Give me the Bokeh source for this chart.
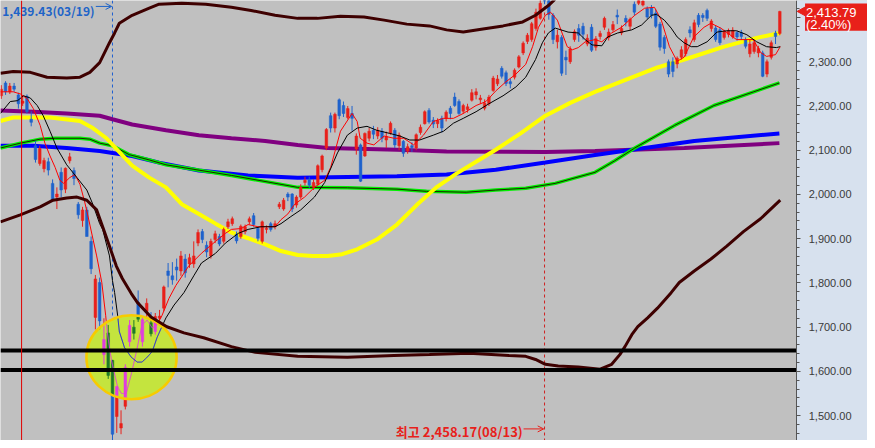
import numpy as np
from bokeh.plotting import figure
from bokeh.models import (Range1d, Span, Arrow, OpenHead, LinearAxis,
                          SingleIntervalTicker, NumeralTickFormatter)
from bokeh.core.properties import value
from bokeh.embed import file_html
from bokeh.resources import INLINE

# ---------------- data: KOSPI daily candles (index 0 = 2020-02-12) ----------------
opens = [2223, 2252, 2232, 2245, 2225, 2206, 2222, 2170, 2110, 2070,
         2058, 2074, 2025, 1994, 2050, 2012, 2076, 2054, 1978, 1941,
         1965, 1894, 1722, 1801, 1638, 1687, 1625, 1498, 1472, 1521,
         1667, 1700, 1756, 1667, 1736, 1710, 1690, 1720, 1743, 1827,
         1816, 1836, 1827, 1854, 1843, 1843, 1890, 1916, 1885, 1861,
         1898, 1905, 1894, 1927, 1934, 1910, 1905, 1916, 1938, 1952,
         1923, 1894, 1921, 1934, 1927, 1972, 1967, 2001, 2001, 1976,
         1994, 2027, 2034, 2016, 2023, 2056, 2105, 2178, 2150, 2214,
         2201, 2174, 2183, 2103, 2112, 2087, 2127, 2145, 2132, 2143,
         2123, 2138, 2145, 2110, 2120, 2098, 2110, 2105, 2140, 2160,
         2190, 2168, 2160, 2172, 2172, 2195, 2220, 2210, 2188, 2192,
         2213, 2225, 2214, 2195, 2205, 2235, 2250, 2285, 2275, 2255,
         2265, 2288, 2320, 2346, 2350, 2375, 2398, 2450, 2440, 2405,
         2345, 2355, 2310, 2300, 2350, 2375, 2380, 2340, 2378, 2333,
         2357, 2378, 2355, 2372, 2405, 2365, 2398, 2380, 2430, 2432,
         2428, 2420, 2422, 2410, 2385, 2355, 2300, 2300, 2295, 2310,
         2318, 2372, 2350, 2405, 2405, 2416, 2375, 2376, 2372, 2355,
         2362, 2356, 2366, 2366, 2350, 2318, 2323, 2320, 2320, 2272,
         2310, 2365, 2364]
highs = [2247, 2256, 2252, 2252, 2230, 2222, 2226, 2188, 2121, 2110,
         2083, 2083, 2034, 2016, 2061, 2061, 2094, 2061, 1983, 1972,
         1972, 1905, 1818, 1812, 1720, 1705, 1626, 1566, 1512, 1616,
         1716, 1716, 1783, 1723, 1765, 1734, 1732, 1739, 1794, 1845,
         1847, 1855, 1872, 1865, 1866, 1894, 1921, 1922, 1894, 1900,
         1918, 1911, 1925, 1945, 1950, 1916, 1932, 1932, 1950, 1958,
         1927, 1941, 1930, 1938, 1941, 1983, 1992, 2005, 2003, 1998,
         2023, 2040, 2040, 2034, 2068, 2090, 2150, 2185, 2185, 2217,
         2210, 2200, 2200, 2138, 2115, 2140, 2150, 2155, 2152, 2150,
         2142, 2165, 2150, 2140, 2123, 2115, 2118, 2138, 2158, 2190,
         2195, 2175, 2172, 2178, 2190, 2200, 2230, 2215, 2205, 2205,
         2238, 2240, 2225, 2215, 2225, 2268, 2270, 2290, 2280, 2262,
         2285, 2315, 2346, 2365, 2390, 2420, 2440, 2458.17, 2445, 2410,
         2372, 2360, 2325, 2335, 2373, 2385, 2388, 2362, 2385, 2358,
         2370, 2402, 2375, 2392, 2418, 2382, 2405, 2400, 2436, 2448,
         2445, 2425, 2428, 2418, 2390, 2360, 2305, 2310, 2312, 2335,
         2355, 2380, 2395, 2410, 2410, 2420, 2396, 2382, 2378, 2372,
         2375, 2378, 2370, 2372, 2355, 2350, 2350, 2336, 2325, 2305,
         2348, 2370, 2415]
lows = [2216, 2225, 2227, 2232, 2194, 2200, 2183, 2154, 2072, 2065,
        2050, 2043, 1983, 1967, 1994, 2003, 2070, 2021, 1945, 1927,
        1905, 1820, 1695, 1695, 1616, 1583, 1439.43, 1461, 1458, 1514,
        1656, 1672, 1712, 1656, 1723, 1679, 1683, 1712, 1736, 1790,
        1796, 1805, 1816, 1812, 1834, 1834, 1883, 1890, 1858, 1855,
        1890, 1883, 1889, 1922, 1929, 1889, 1900, 1910, 1932, 1927,
        1894, 1889, 1912, 1916, 1921, 1967, 1963, 1985, 1960, 1970,
        1990, 2020, 2014, 2010, 2020, 2050, 2100, 2140, 2140, 2170,
        2175, 2170, 2144, 2090, 2028, 2085, 2120, 2125, 2125, 2118,
        2105, 2135, 2105, 2100, 2085, 2092, 2096, 2100, 2135, 2158,
        2160, 2150, 2150, 2140, 2165, 2170, 2198, 2180, 2182, 2185,
        2210, 2215, 2205, 2190, 2200, 2232, 2245, 2262, 2245, 2240,
        2260, 2285, 2315, 2340, 2345, 2370, 2395, 2430, 2395, 2340,
        2330, 2268, 2270, 2295, 2345, 2345, 2350, 2335, 2322, 2325,
        2350, 2372, 2348, 2368, 2385, 2360, 2380, 2372, 2405, 2428,
        2425, 2397, 2398, 2376, 2325, 2318, 2265, 2265, 2285, 2305,
        2312, 2355, 2345, 2378, 2390, 2392, 2368, 2345, 2338, 2350,
        2355, 2352, 2348, 2350, 2330, 2310, 2318, 2310, 2265, 2265,
        2305, 2340, 2360]
closes = [2238, 2232, 2245, 2238, 2205, 2211, 2187, 2163, 2079, 2104,
          2077, 2055, 1987, 2001, 2010, 2059, 2085, 2036, 1954, 1965,
          1905, 1832, 1809, 1714, 1672, 1591, 1458, 1566, 1482, 1609,
          1704, 1686, 1718, 1717, 1754, 1685, 1724, 1725, 1791, 1817,
          1807, 1829, 1861, 1823, 1857, 1861, 1914, 1898, 1870, 1894,
          1911, 1888, 1921, 1938, 1945, 1895, 1928, 1927, 1945, 1932,
          1901, 1938, 1923, 1921, 1934, 1978, 1987, 1994, 1967, 1994,
          2016, 2032, 2021, 2027, 2065, 2087, 2147, 2150, 2181, 2178,
          2183, 2194, 2172, 2132, 2030, 2138, 2143, 2136, 2145, 2127,
          2131, 2161, 2112, 2134, 2093, 2108, 2106, 2135, 2152, 2187,
          2164, 2159, 2167, 2150, 2186, 2183, 2201, 2183, 2201, 2198,
          2230, 2232, 2218, 2206, 2220, 2263, 2261, 2267, 2251, 2250,
          2281, 2311, 2342, 2360, 2386, 2412, 2432, 2437, 2407, 2350,
          2360, 2274, 2304, 2329, 2368, 2360, 2362, 2353, 2326, 2352,
          2364, 2398, 2367, 2384, 2401, 2375, 2390, 2396, 2412, 2443,
          2437, 2401, 2405, 2380, 2333, 2330, 2272, 2278, 2308, 2327,
          2350, 2365, 2388, 2384, 2400, 2398, 2392, 2350, 2343, 2368,
          2370, 2371, 2356, 2357, 2335, 2340, 2343, 2330, 2267, 2300,
          2343, 2357, 2413.79]

low_day, low_date = 26, "03/19"
high_day, high_date = 127, "08/13"
cursor_day = 4.75
last_change_pct = 2.40
support_levels = [1647, 1603]

# moving averages (x = trading-day index)
ma5_x = [-0.2, 2.8, 4.5, 6.1, 7.5, 9.1, 10.2, 11.4, 12.6, 13.7, 14.6, 16.0, 17.2, 18.4,
         19.5, 20.2, 22.3, 23.5, 24.4, 24.8, 25.8, 27.2, 28.1, 29.2, 30.4, 31.6, 32.9,
         34.1, 35.3, 36.4, 37.6, 39.2, 40.8, 43.8, 46.8, 50.1, 52.4, 53.8, 56.1, 57.7,
         60.0, 64.0, 65.4, 67.0, 68.6, 70.9, 73.2, 75.6, 77.0, 79.3, 82.0, 83.2, 83.9,
         85.5, 87.1, 89.5, 91.8, 94.1, 96.4, 98.7, 101.0, 103.4, 105.7, 108.0, 111.0,
         113.3, 115.6, 117.9, 120.3, 122.6, 124.2, 125.6, 127.2, 128.4, 130.0, 131.1,
         132.3, 133.5, 134.9, 136.5, 138.8, 140.4, 142.7, 145.0, 148.1, 150.4, 152.7,
         154.3, 156.2, 158.0, 159.6, 161.9, 164.3, 165.9, 168.2, 171.9, 175.8, 177.5,
         178.9, 181.0, 182.1]
ma5_y = [2232, 2232, 2227, 2216, 2194, 2156, 2116, 2087, 2061, 2032, 2025, 2038, 2045, 2023,
         1983, 1954, 1861, 1801, 1727, 1687, 1623, 1565, 1550, 1550, 1594, 1645, 1705,
         1716, 1698, 1705, 1727, 1765, 1794, 1838, 1867, 1894, 1912, 1921, 1923, 1932,
         1927, 1927, 1943, 1956, 1978, 1994, 2016, 2032, 2061, 2143, 2183, 2165, 2127,
         2116, 2112, 2132, 2127, 2127, 2112, 2134, 2165, 2172, 2172, 2183, 2201,
         2210, 2234, 2254, 2272, 2294, 2334, 2378, 2405, 2412, 2394, 2365,
         2334, 2327, 2332, 2345, 2350, 2345, 2365, 2378, 2405, 2421, 2423,
         2394, 2334, 2301, 2310, 2356, 2378, 2387, 2376, 2350, 2350, 2321,
         2312, 2316, 2334]
ma20_x = [-0.2, 2.1, 3.8, 5.2, 6.8, 8.4, 9.8, 11.4, 13.0, 15.3, 17.7, 20.0, 21.4, 23.0,
          23.7, 25.3, 26.0, 26.5, 27.2, 27.6, 28.8, 30.4, 31.8, 32.9, 34.1, 35.3, 36.4,
          37.4, 38.5, 40.4, 42.7, 45.0, 46.8, 50.1, 52.4, 55.4, 57.7, 60.7, 64.0, 65.4,
          67.7, 70.0, 73.2, 75.6, 78.6, 80.9, 83.2, 85.5, 87.8, 90.8, 93.2, 95.5, 97.8,
          101.0, 103.4, 105.7, 108.0, 111.0, 114.0, 117.3, 120.3, 122.6, 124.9, 126.5,
          127.9, 129.5, 132.5, 134.9, 136.5, 138.1, 140.4, 141.8, 144.1, 147.4, 149.7,
          152.0, 153.2, 155.0, 156.6, 158.0, 159.6, 161.3, 162.7, 165.0, 167.3, 169.6,
          171.9, 174.3, 176.6, 178.9, 181.2, 182.1]
ma20_y = [2183, 2210, 2212, 2223, 2218, 2201, 2178, 2143, 2105, 2067, 2038, 2010, 1978, 1934,
          1921, 1861, 1805, 1778, 1727, 1690, 1654, 1632, 1621, 1621, 1632, 1645, 1676,
          1698, 1721, 1750, 1778, 1816, 1845, 1867, 1890, 1912, 1921, 1927, 1927, 1934,
          1950, 1965, 1994, 2027, 2094, 2134, 2150, 2154, 2145, 2138, 2132, 2123, 2123,
          2134, 2143, 2161, 2172, 2187, 2205, 2223, 2243, 2265, 2305, 2343,
          2365, 2376, 2367, 2365, 2350, 2338, 2336, 2356, 2365, 2372, 2383,
          2405, 2407, 2394, 2376, 2356, 2343, 2334, 2334, 2345, 2367, 2370,
          2370, 2361, 2345, 2334, 2332, 2334]
ma60_x = [-0.18, 2.8, 11.4, 18.4, 21.4, 24.6, 26.9, 30.6, 34.6, 38.5, 42.2, 46.2, 50.1,
          53.8, 57.7, 61.7, 65.4, 69.3, 72.8, 76.3, 79.7, 83.2, 87.8, 92.5, 97.1, 101.7,
          106.4, 111.0, 115.6, 121.4, 127.2, 133.0, 138.8, 153.4, 159.7, 169.0, 176.6, 182.1]
ma60_y = [2166, 2174, 2174, 2166, 2150, 2127, 2103, 2065, 2038, 2016, 1978, 1956, 1934,
          1914, 1901, 1887, 1872, 1863, 1861, 1861, 1865, 1876, 1898, 1932, 1976, 2016,
          2047, 2074, 2101, 2138, 2178, 2207, 2232, 2287, 2305, 2334, 2354, 2365]
ma120_x = [-0.18, 4.5, 9.1, 12.6, 18.4, 20.7, 23.0, 26.0, 29.9, 34.6, 38.5, 53.8, 69.3,
           80.9, 92.5, 99.4, 108.7, 115.6, 122.6, 129.5, 138.8, 143.4, 148.1, 157.4,
           166.6, 175.9, 181.9]
ma120_y = [2105, 2116, 2125, 2127, 2127, 2125, 2116, 2110, 2090, 2078, 2067, 2043, 2016,
           2015, 2012, 2007, 2005, 2010, 2014, 2025, 2050, 2076, 2105, 2156, 2201, 2232, 2252]
ma200_x = [-0.18, 7.5, 15.3, 23.0, 30.6, 36.9, 46.2, 57.7, 69.3, 92.5, 104.1, 115.6, 127.2,
           138.8, 150.4, 162.0, 181.9]
ma200_y = [2110, 2110, 2105, 2098, 2087, 2072, 2054, 2043, 2038, 2041, 2045, 2056, 2072,
           2089, 2105, 2121, 2138]
ma240_x = [-0.18, 7.5, 15.3, 23.0, 26.0, 30.6, 38.5, 46.2, 53.8, 61.7, 69.3, 76.3, 92.5,
           104.1, 127.2, 138.8, 159.7, 181.9]
ma240_y = [2190, 2187, 2183, 2178, 2170, 2158, 2145, 2134, 2127, 2121, 2112, 2105, 2101,
           2097, 2096, 2098, 2105, 2116]
band_up_x = [-0.18, 2.8, 6.8, 10.7, 15.3, 18.4, 20.7, 23.0, 25.3, 26.5, 27.6, 30.6, 34.6,
             36.9, 42.2, 47.8, 53.8, 58.4, 64.0, 69.3, 73.9, 79.3, 84.8, 89.5, 94.8, 100.1,
             104.1, 108.0, 112.6, 117.3, 121.9, 124.9, 127.9, 129.1, 131.0]
band_up_y = [2274, 2278, 2276, 2265, 2263, 2265, 2276, 2298, 2343, 2365, 2387, 2405, 2421,
             2430, 2432, 2430, 2423, 2416, 2405, 2398, 2398, 2403, 2401, 2394, 2385, 2381,
             2372, 2367, 2374, 2381, 2390, 2405, 2427, 2438, 2460]
band_dn_x = [-0.18, 4.46, 9.09, 12.1, 15.3, 17.7, 20.0, 22.3, 23.7, 25.3, 26.9, 28.3, 30.4,
             31.8, 35.0, 38.7, 42.7, 47.3, 53.8, 59.4, 69.3, 80.9, 91.8, 100.1, 109.4,
             118.7, 122.6, 124.9, 127.2, 130.2, 134.9, 140.0, 142.7, 144.6, 145.8, 147.4,
             148.8, 151.1, 153.4, 156.6, 158.5, 162.0, 165.9, 169.6, 173.5, 177.5, 182.1]
band_dn_y = [1938, 1954, 1972, 1987, 1992, 1994, 1987, 1965, 1927, 1883, 1838, 1810, 1776,
             1756, 1723, 1701, 1687, 1676, 1656, 1643, 1634, 1632, 1636, 1638, 1641,
             1636, 1634, 1627, 1616, 1612, 1610, 1605, 1616, 1638, 1656, 1683,
             1701, 1721, 1743, 1778, 1801, 1827, 1854, 1883, 1916, 1945, 1987]

# highlighted zone (drawn ellipse) in data units
E_X, E_Y, E_W, E_H = 30.45, 1632.0, 21.1, 190.0

# ---------------- layout constants ----------------
X0, X1 = -0.18, 202.5          # visible trading-day window incl. price panel
Y0, Y1 = 1443.8, 2438.4
AXIS_X = 185.95                # price axis position (right edge of chart area)
TAG_X = 187.9                  # left edge of the last-price tag

RED, BLUE = "#E8201A", "#1E62CC"
MAG, DGREEN = "#E03CE0", "#1E7A28"
BG, PANEL = "#C0C0C0", "#D7E1EE"

o = np.array(opens, float); h = np.array(highs, float)
l = np.array(lows, float); c = np.array(closes, float)
n = len(c)
day = np.arange(n)
up = c >= o
col = np.where(up, RED, BLUE)
alt = np.where(up, MAG, DGREEN)
bot = np.minimum(o, c)
top = np.maximum(np.maximum(o, c), bot + 2.5)

p = figure(width=867, height=440, x_range=Range1d(X0, X1),
           y_range=Range1d(Y0, Y1), output_backend="svg",
           toolbar_location=None, x_axis_location=None, y_axis_location=None,
           min_border_left=0, min_border_top=0, min_border_bottom=0,
           min_border_right=0, background_fill_color=BG,
           border_fill_color=PANEL, outline_line_color=None)
p.grid.visible = False

# price panel background
p.quad(left=[AXIS_X], right=[X1 + 1], bottom=[Y0 - 50], top=[Y1 + 50],
       fill_color=PANEL, line_color=None, level="underlay")

ax = LinearAxis(fixed_location=AXIS_X)
ax.ticker = SingleIntervalTicker(interval=100, num_minor_ticks=5)
ax.formatter = NumeralTickFormatter(format="0,0.00")
ax.axis_line_color = "#555555"
ax.major_tick_line_color = "#555555"
ax.minor_tick_line_color = "#555555"
ax.major_tick_out = 4
ax.major_tick_in = 0
ax.minor_tick_out = 3
ax.minor_tick_in = 0
ax.major_label_text_font = "Liberation Sans"
ax.major_label_text_font_size = "11px"
ax.major_label_text_color = "#3A3A3A"
ax.major_label_standoff = 8
p.add_layout(ax, "right")

# date markers
p.add_layout(Span(location=low_day, dimension="height", line_color="#1E5FD0",
                  line_width=1, line_dash="3 3", level="underlay"))
p.add_layout(Span(location=high_day, dimension="height", line_color="#D02020",
                  line_width=1, line_dash="3 3", level="underlay"))

# long moving averages
p.line(ma240_x, ma240_y, line_color="#800080", line_width=4)
p.line(ma200_x, ma200_y, line_color="#0000FF", line_width=4)
p.line(ma120_x, ma120_y, line_color="#00F000", line_width=3.5)
p.line(ma120_x, ma120_y, line_color="#202000", line_width=1)
p.line(ma60_x, ma60_y, line_color="#FFFF00", line_width=4)

# candles
p.segment(x0=day, y0=l, x1=day, y1=h, line_color=col, line_width=1)
p.vbar(x=day, width=0.62, bottom=bot, top=top, fill_color=col, line_color=col,
       line_width=0.5)

# short moving averages
p.line(ma5_x, ma5_y, line_color="#FF0000", line_width=1)
p.line(ma20_x, ma20_y, line_color="#000000", line_width=1)

# highlighted zone
p.ellipse(x=[E_X], y=[E_Y], width=E_W, height=E_H, fill_color="#C4E43E",
          line_color=None)


def span_at(xc):
    t = (xc - E_X) / (E_W / 2)
    if abs(t) >= 1:
        return None
    hh = (E_H / 2) * np.sqrt(1 - t * t)
    return E_Y - hh, E_Y + hh


wx, wy0, wy1, wc = [], [], [], []
bx, by0, by1, bc = [], [], [], []
for i in range(n):
    s = span_at(day[i])
    if s is None:
        continue
    a, b = max(l[i], s[0]), min(h[i], s[1])
    if b > a:
        wx.append(day[i]); wy0.append(a); wy1.append(b); wc.append(alt[i])
    a, b = max(bot[i], s[0]), min(top[i], s[1])
    if b > a:
        bx.append(day[i]); by0.append(a); by1.append(b); bc.append(alt[i])
p.segment(x0=wx, y0=wy0, x1=wx, y1=wy1, line_color=wc, line_width=1)
p.vbar(x=bx, width=0.62, bottom=by0, top=by1, fill_color=bc, line_color=bc,
       line_width=0.5)


def inside_pieces(xs, ys, steps=30):
    out_x, out_y, cx, cy = [], [], [], []
    for k in range(len(xs) - 1):
        for t in np.linspace(0, 1, steps, endpoint=False):
            x = xs[k] + (xs[k + 1] - xs[k]) * t
            y = ys[k] + (ys[k + 1] - ys[k]) * t
            if ((x - E_X) / (E_W / 2)) ** 2 + ((y - E_Y) / (E_H / 2)) ** 2 <= 0.985:
                cx.append(x); cy.append(y)
            elif cx:
                out_x.append(cx); out_y.append(cy); cx, cy = [], []
    if cx:
        out_x.append(cx); out_y.append(cy)
    return out_x, out_y


mx, my = inside_pieces(ma5_x, ma5_y)
p.multi_line(mx, my, line_color=MAG, line_width=1)
mx, my = inside_pieces(ma20_x, ma20_y)
p.multi_line(mx, my, line_color="#0000FF", line_width=1)

p.ellipse(x=[E_X], y=[E_Y], width=E_W, height=E_H, fill_color=None,
          line_color="#F7CB00", line_width=2.5)

# envelope bands
p.line(band_up_x, band_up_y, line_color="#3E0000", line_width=3)
p.line(band_dn_x, band_dn_y, line_color="#3E0000", line_width=3)

# support lines (stop at the price axis) & cursor
p.segment(x0=[X0] * len(support_levels), y0=support_levels,
          x1=[AXIS_X] * len(support_levels), y1=support_levels,
          line_color="black", line_width=4)
p.add_layout(Span(location=cursor_day, dimension="height", line_color="#E00000",
                  line_width=1))

# low / high annotations
low_val = float(np.min(l))
high_val = float(np.max(h))
p.text(x=[low_day - 4.2], y=[2416.0], text=[f"{low_val:,.2f}({low_date})"],
       text_align="right", text_baseline="alphabetic", text_color="#1E64C8",
       text_font=value("Noto Sans CJK KR"), text_font_size="12px",
       text_font_style="bold")
p.add_layout(Arrow(end=OpenHead(size=6, line_color="#1E64C8", line_width=1),
                   x_start=low_day - 3.9, y_start=2425.0, x_end=low_day - 0.2,
                   y_end=2425.0, line_color="#1E64C8", line_width=1))
p.text(x=[high_day - 5.1], y=[1464.0], text=[f"최고 {high_val:,.2f}({high_date})"],
       text_align="right", text_baseline="alphabetic", text_color=RED,
       text_font=value("Noto Sans CJK KR"), text_font_size="13px",
       text_font_style="bold")
p.add_layout(Arrow(end=OpenHead(size=6, line_color=RED, line_width=1),
                   x_start=high_day - 4.9, y_start=1470.0, x_end=high_day - 0.2,
                   y_end=1470.0, line_color=RED, line_width=1))

# last price tag on the axis (drawn above the axis labels)
last = closes[-1]
p.patch(x=[AXIS_X + 0.1, TAG_X + 0.05, TAG_X + 0.05], y=[last, last + 10, last - 10],
        fill_color=RED, line_color=RED, level="overlay")
p.quad(left=[TAG_X], right=[X1 + 1], bottom=[last - 44], top=[last + 18],
       fill_color=RED, line_color=None, level="overlay")
p.text(x=[TAG_X + 0.2, TAG_X + 0.2], y=[last - 3, last - 30],
       text=[f"{last:,.2f}", f"({last_change_pct:.2f}%)"],
       text_baseline="middle", text_align="left", text_color="white",
       text_font=value("Liberation Sans"), text_font_size="13px", level="overlay")

open("out.html", "w").write(file_html(p, INLINE))
